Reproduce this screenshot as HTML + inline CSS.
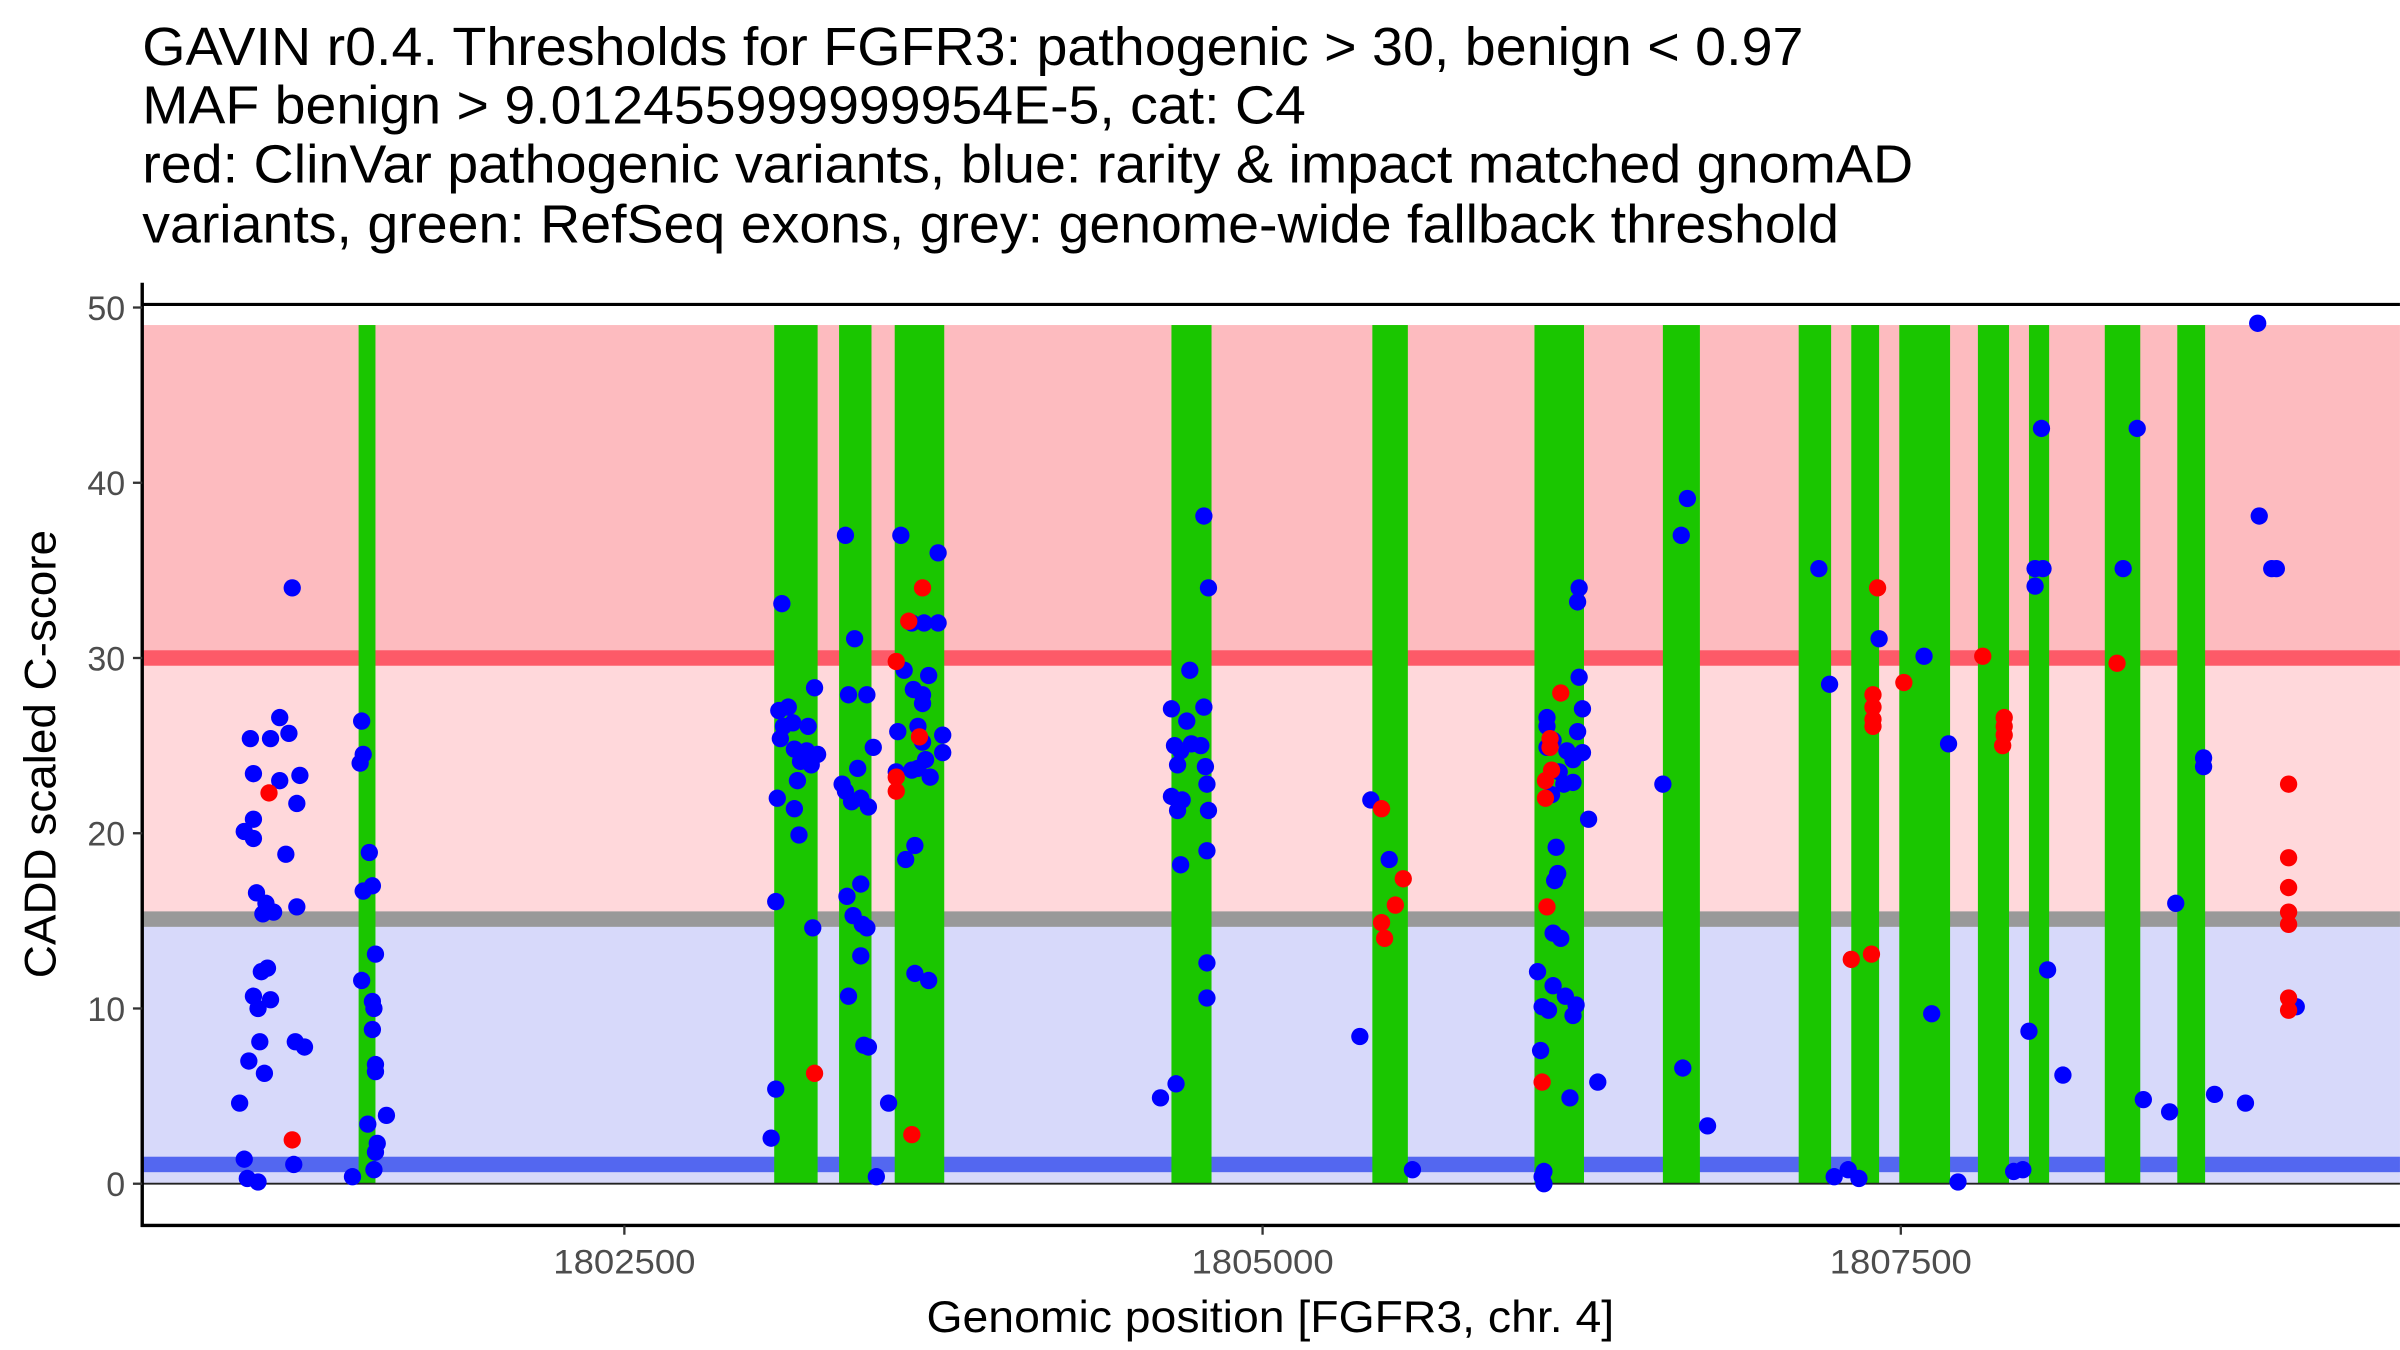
<!DOCTYPE html>
<html><head><meta charset="utf-8">
<style>
html,body{margin:0;padding:0;background:#fff;}
svg{display:block;}
text{font-family:"Liberation Sans",Arial,sans-serif;}
</style></head>
<body>
<svg id="chart" xmlns="http://www.w3.org/2000/svg" width="2400" height="1350" viewBox="0 0 1553 873.6">
  <g font-size="35" fill="#000">
    <text x="92" y="42" textLength="1075" lengthAdjust="spacingAndGlyphs">GAVIN r0.4. Thresholds for FGFR3: pathogenic &gt; 30, benign &lt; 0.97</text>
    <text x="92" y="80" textLength="753" lengthAdjust="spacingAndGlyphs">MAF benign &gt; 9.012455999999954E-5, cat: C4</text>
    <text x="92" y="118" textLength="1146" lengthAdjust="spacingAndGlyphs">red: ClinVar pathogenic variants, blue: rarity &amp; impact matched gnomAD</text>
    <text x="92" y="157" textLength="1098" lengthAdjust="spacingAndGlyphs">variants, green: RefSeq exons, grey: genome-wide fallback threshold</text>
  </g>
  <g id="bands"></g>
  <g id="exons"></g>
  <g id="lines"></g>
  <g id="points"></g>
  <g id="axes"></g>
  <text x="36" y="488" transform="rotate(-90 36 488)" text-anchor="middle" font-size="29" textLength="290" lengthAdjust="spacingAndGlyphs" fill="#000">CADD scaled C-score</text>
  <text x="822" y="862" text-anchor="middle" font-size="29" textLength="445" lengthAdjust="spacingAndGlyphs" fill="#000">Genomic position [FGFR3, chr. 4]</text>
</svg>
<script>
const yTicks = [0, 10, 20, 30, 40, 50];
const xTicks = [1802500, 1805000, 1807500];
const xTickLabels = ["1802500", "1805000", "1807500"];
const exonStarts = [1801459, 1803087, 1803341, 1803559, 1804643, 1805430, 1806065, 1806568, 1807100, 1807306, 1807494, 1807802, 1808002, 1808299, 1808583];
const exonEnds   = [1801525, 1803257, 1803468, 1803753, 1804800, 1805569, 1806259, 1806713, 1807227, 1807415, 1807693, 1807924, 1808081, 1808438, 1808692];
const exonTop = 49;
const pathogenicThreshold = 30;
const fallbackThreshold = 15.1;
const benignThreshold = 1.1;
const bandTop = 49;
const bluePos = [
1801199,1801035,1801150,1801114,1801186,1801047,1801150,1801229,1801217,1801011,1801047,1801047,1801174,1801059,1801096,1801084,1801126,1801217,1801078,1801102,1801047,1801114,1801065,1801072,1801211,1801247,1801029,1801090,1800993,1801011,1801023,1801065,1801205,
1801471,1801477,1801465,1801501,1801477,1801513,1801525,1801471,1801513,1801519,1801513,1801525,1801525,1801495,1801568,1801532,1801525,1801519,1801435,
1803117,1803105,1803142,1803123,1803160,1803111,1803166,1803214,1803245,1803220,1803190,1803232,1803257,1803178,1803166,1803099,1803184,1803093,1803238,1803093,1803075,
1803366,1803402,1803378,1803450,1803414,1803475,1803353,1803366,1803390,1803426,1803456,1803372,1803426,1803396,1803432,1803450,1803426,1803378,1803438,1803456,1803535,1803487,
1803583,1803729,1803626,1803674,1803729,1803692,1803596,1803668,1803668,1803632,1803571,1803747,1803747,1803650,1803668,1803626,1803680,1803650,1803698,1803602,1803638,1803638,1803692,1803565,
1804770,1804788,1804715,1804643,1804770,1804703,1804655,1804679,1804721,1804758,1804667,1804776,1804643,1804685,1804667,1804782,1804788,1804679,1804782,1804782,1804782,1804661,1804600,
1805424,1805496,1805381,1805587,
1806114,1806114,1806240,1806234,1806240,1806138,1806234,1806253,1806253,1806114,1806192,1806216,1806162,1806180,1806132,1806216,1806277,1806150,1806144,1806156,1806138,1806168,1806077,1806138,1806095,1806120,1806186,1806228,1806216,1806089,1806313,1806204,1806102,1806095,1806102,
1806664,1806640,1806568,1806646,1806743,
1807179,1807221,1807415,1807591,1807687,1807621,1807724,1807239,1807294,1807336,
1808051,1808026,1808057,1808026,1808075,1808002,1808135,1807942,1807978,
1808426,1808371,1808577,1808686,1808686,1808898,1808904,1808953,1808971,1808450,1808553,1808729,1808850,1809049
];
const blueScore = [
34.0,25.4,26.6,25.4,25.7,23.4,23.0,23.3,21.7,20.1,20.8,19.7,18.8,16.6,16.0,15.4,15.5,15.8,12.1,12.3,10.7,10.5,10.0,8.1,8.1,7.8,7.0,6.3,4.6,1.4,0.3,0.1,1.1,
26.4,24.5,24.0,18.9,16.7,17.0,13.1,11.6,10.4,10.0,8.8,6.8,6.4,3.4,3.9,2.3,1.8,0.8,0.4,
33.1,27.0,27.2,26.1,26.3,25.4,24.8,24.7,28.3,26.1,24.1,23.9,24.5,23.0,21.4,22.0,19.9,16.1,14.6,5.4,2.6,
37.0,31.1,27.9,27.9,23.7,24.9,22.8,22.4,21.8,22.0,21.5,16.4,17.1,15.3,14.8,14.6,13.0,10.7,7.9,7.8,4.6,0.4,
37.0,36.0,32.0,32.0,32.0,29.0,29.3,27.9,27.4,28.2,25.8,25.6,24.6,26.1,25.2,23.6,24.2,23.7,23.2,18.5,19.3,12.0,11.6,23.5,
38.1,34.0,29.3,27.1,27.2,26.4,25.0,24.7,25.1,25.0,23.9,23.8,22.1,21.9,21.3,22.8,21.3,18.2,19.0,12.6,10.6,5.7,4.9,
21.9,18.5,8.4,0.8,
26.6,26.1,34.0,33.2,28.9,25.3,25.8,24.6,27.1,24.9,24.7,24.2,23.5,22.8,22.2,22.9,20.8,19.2,17.3,17.7,14.3,14.0,12.1,11.3,10.1,9.9,10.7,10.2,9.6,7.6,5.8,4.9,0.7,0.4,0.0,
39.1,37.0,22.8,6.6,3.3,
35.1,28.5,31.1,30.1,25.1,9.7,0.1,0.4,0.8,0.3,
43.1,35.1,35.1,34.1,12.2,8.7,6.2,0.7,0.8,
43.1,35.1,16.0,24.3,23.8,49.1,38.1,35.1,35.1,4.8,4.1,5.1,4.6,10.1
];
const redPos = [1801108,1801199,1803245,1803565,1803614,1803668,1803565,1803565,1803656,1803626,
1805466,1805551,1805520,1805466,1805478,
1806168,1806126,1806126,1806132,1806108,1806108,1806114,1806095,
1807409,1807391,1807391,1807391,1807391,1807512,1807306,1807385,1807821,1807905,1807905,1807905,1807899,1808347,
1809019,1809019,1809019,1809019,1809019,1809019,1809019];
const redScore = [22.3,2.5,6.3,29.8,32.1,34.0,23.2,22.4,25.5,2.8,
21.4,17.4,15.9,14.9,14.0,
28.0,25.4,24.9,23.6,23.0,22.0,15.8,5.8,
34.0,27.9,27.2,26.5,26.1,28.6,12.8,13.1,30.1,26.6,26.1,25.6,25.0,29.7,
22.8,18.6,16.9,15.5,14.8,10.6,9.9];

const NS = "http://www.w3.org/2000/svg";
const X0 = 404, XPB = 413 / 2500, XREF = 1802500;
function xs(g){ return X0 + (g - XREF) * XPB; }
const Y0 = 766, YPU = 11.34;
function ys(v){ return Y0 - v * YPU; }
const LEFT = 92, RIGHT = 1553;
function mk(parent, tag, attrs){
  const e = document.createElementNS(NS, tag);
  for (const k in attrs) e.setAttribute(k, attrs[k]);
  parent.appendChild(e);
  return e;
}
const bands = document.getElementById('bands');
let r;
r = mk(bands,'rect',{x:LEFT,y:ys(bandTop),width:RIGHT-LEFT,height:ys(pathogenicThreshold)-ys(bandTop),fill:'#fdbbbf'});


r = mk(bands,'rect',{x:LEFT,y:ys(pathogenicThreshold),width:RIGHT-LEFT,height:ys(fallbackThreshold)-ys(pathogenicThreshold),fill:'#ffd8db'});


r = mk(bands,'rect',{x:LEFT,y:ys(fallbackThreshold),width:RIGHT-LEFT,height:ys(0)-ys(fallbackThreshold),fill:'#d7d9fa'});



const lines = document.getElementById('lines');
let l;
l = mk(lines,'rect',{x:LEFT,y:ys(pathogenicThreshold)-5,width:RIGHT-LEFT,height:10,fill:'#fd5a68'});


l = mk(lines,'rect',{x:LEFT,y:ys(fallbackThreshold)-5,width:RIGHT-LEFT,height:10,fill:'#999999'});


l = mk(lines,'rect',{x:LEFT,y:ys(benignThreshold)-5,width:RIGHT-LEFT,height:10,fill:'#5367f0'});


for (let i=0;i<exonStarts.length;i++){
  const e = mk(lines,'rect',{x:xs(exonStarts[i]),y:ys(exonTop),width:xs(exonEnds[i])-xs(exonStarts[i]),height:ys(0)-ys(exonTop),fill:'#1ac600'});
  
  
}
l = mk(lines,'line',{x1:LEFT,x2:RIGHT,y1:ys(0),y2:ys(0),stroke:'#222',"stroke-width":1.2});


l = mk(lines,'line',{x1:LEFT,x2:RIGHT,y1:ys(50)-2,y2:ys(50)-2,stroke:'#000',"stroke-width":2});



const pts = document.getElementById('points');
for (let i=0;i<bluePos.length;i++){
  const c = mk(pts,'circle',{cx:xs(bluePos[i]),cy:ys(blueScore[i]),r:5.6,fill:'#0000ff'});
  
  
}
for (let i=0;i<redPos.length;i++){
  const c = mk(pts,'circle',{cx:xs(redPos[i]),cy:ys(redScore[i]),r:5.6,fill:'#ff0000'});
  
  
}

const axes = document.getElementById('axes');
let a;
a = mk(axes,'line',{x1:LEFT,x2:LEFT,y1:183,y2:794,stroke:'#000',"stroke-width":2.2});


a = mk(axes,'line',{x1:LEFT-1,x2:RIGHT,y1:793,y2:793,stroke:'#000',"stroke-width":2.2});


for (const t of yTicks){
  const tk = mk(axes,'line',{x1:LEFT-6,x2:LEFT,y1:ys(t),y2:ys(t),stroke:'#333',"stroke-width":1.5});
  
  
  const tx = mk(axes,'text',{x:LEFT-11,y:ys(t)+8,"text-anchor":'end',"font-size":22,fill:'#4d4d4d'});
  tx.textContent = String(t);
  
  
}
for (let i=0;i<xTicks.length;i++){
  const x = xs(xTicks[i]);
  const tk = mk(axes,'line',{x1:x,x2:x,y1:793,y2:799,stroke:'#333',"stroke-width":1.5});
  
  
  const tx = mk(axes,'text',{x:x,y:824,"text-anchor":'middle',"font-size":22,textLength:92,lengthAdjust:'spacingAndGlyphs',fill:'#4d4d4d'});
  tx.textContent = xTickLabels[i];
  
  
}
</script>
</body></html>
